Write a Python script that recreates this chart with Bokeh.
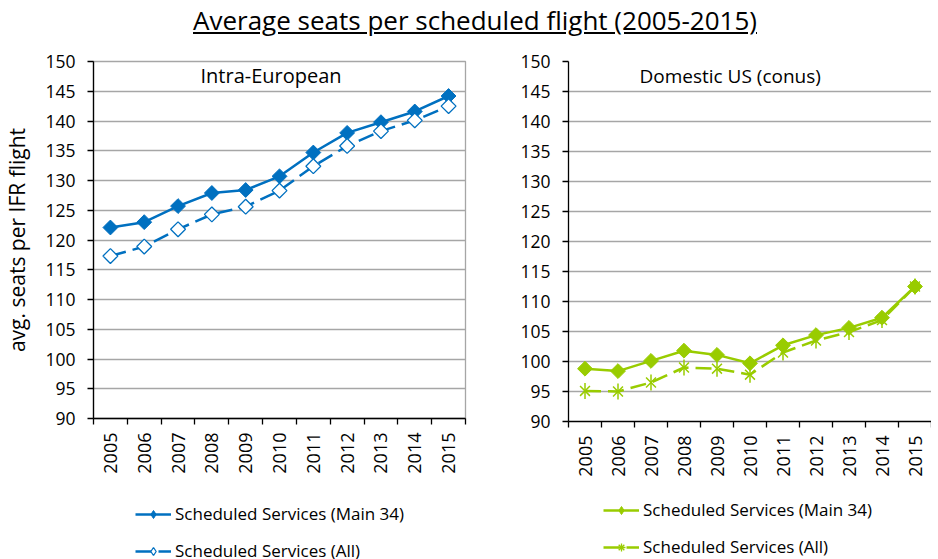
import math
from bokeh.plotting import figure
from bokeh.models import Range1d, FixedTicker, Label, Legend, LegendItem, Div
from bokeh.layouts import column, row
from bokeh.embed import file_html
from bokeh.resources import INLINE

# ---------------- data ----------------
years = [2005, 2006, 2007, 2008, 2009, 2010, 2011, 2012, 2013, 2014, 2015]
eu_main = [122.1, 123.0, 125.7, 127.9, 128.4, 130.7, 134.7, 138.0, 139.8, 141.6, 144.2]
eu_all = [117.3, 118.9, 121.8, 124.3, 125.6, 128.3, 132.4, 135.8, 138.3, 140.1, 142.5]
us_main = [98.8, 98.4, 100.1, 101.8, 101.1, 99.7, 102.7, 104.4, 105.6, 107.3, 112.5]
us_all = [95.1, 95.0, 96.5, 99.0, 98.8, 97.8, 101.5, 103.5, 104.9, 106.9, 112.5]
y_ticks = [90, 95, 100, 105, 110, 115, 120, 125, 130, 135, 140, 145, 150]
series_labels = ["Scheduled Services (Main 34)", "Scheduled Services (All)"]
chart_title = "Average seats per scheduled flight (2005-2015)"
panel_titles = ["Intra-European", "Domestic US (conus)"]
y_label = "avg. seats per IFR flight"

FONT = "Open Sans"
BLUE = "#0070C0"
GREEN = "#99CC00"
GRID = "#a6a6a6"


def make_fig(frame_w, frame_h, b_left, b_right, b_bottom, with_label):
    p = figure(frame_width=frame_w, frame_height=frame_h,
               x_range=Range1d(years[0] - 0.5, years[-1] + 0.5),
               y_range=Range1d(y_ticks[0], y_ticks[-1]),
               output_backend="svg", toolbar_location=None,
               min_border_left=b_left, min_border_right=b_right,
               min_border_top=15, min_border_bottom=b_bottom)
    p.background_fill_color = "white"
    p.border_fill_color = "white"
    p.outline_line_color = GRID
    p.outline_line_width = 1.3
    # x axis
    xa = p.xaxis[0]
    xa.ticker = FixedTicker(ticks=years,
                            minor_ticks=[y - 0.5 for y in years] + [years[-1] + 0.5])
    xa.major_label_overrides = {y: str(y) for y in years}
    xa.major_tick_line_color = None
    xa.minor_tick_line_color = "black"
    xa.minor_tick_in = 0
    xa.minor_tick_out = 6
    xa.minor_tick_line_width = 1.3
    xa.axis_line_color = "black"
    xa.axis_line_width = 1.3
    xa.major_label_orientation = math.pi / 2
    xa.major_label_standoff = 8
    xa.major_label_text_font = FONT
    xa.major_label_text_font_size = "18px"
    xa.major_label_text_color = "black"
    # y axis
    ya = p.yaxis[0]
    ya.ticker = FixedTicker(ticks=y_ticks)
    ya.minor_tick_line_color = None
    ya.major_tick_in = 0
    ya.major_tick_out = 6
    ya.major_tick_line_width = 1.3
    ya.axis_line_color = "black"
    ya.axis_line_width = 1.3
    ya.major_label_standoff = 12
    ya.major_label_text_font = FONT
    ya.major_label_text_font_size = "17.5px"
    ya.major_label_text_color = "black"
    if with_label:
        ya.axis_label = y_label
        ya.axis_label_text_font = FONT
        ya.axis_label_text_font_size = "21px"
        ya.axis_label_text_font_style = "normal"
        ya.axis_label_standoff = 11
        ya.axis_label_text_color = "black"
    p.xgrid.visible = False
    p.ygrid.ticker = FixedTicker(ticks=y_ticks)
    p.ygrid.grid_line_color = GRID
    p.ygrid.grid_line_width = 1.5
    return p


main_line = dict(line_width=2.5)
all_line = dict(line_width=2.5, line_dash="16 7")
dia = dict(marker="square", angle=math.pi / 4, size=10.5, line_width=1)
dia_open = dict(marker="square", angle=math.pi / 4, size=10.5, line_width=1.3,
                fill_color="white")
star_x = dict(marker="x", size=14, line_width=1.5)
star_v = dict(marker="dash", angle=math.pi / 2, size=16, line_width=1.5)
# legend samples (legends draw markers unrotated)
leg_dia = dict(marker="diamond", size=15, line_width=1)
leg_dia_open = dict(marker="diamond", size=15, line_width=1.3, fill_color="white")
leg_star = dict(marker="asterisk", size=14, line_width=1.3)

# ---------------- left: Intra-European ----------------
p1 = make_fig(372, 357, 84, 10, 70, True)
p1.line(years, eu_main, line_color=BLUE, **main_line)
p1.scatter(years, eu_main, fill_color=BLUE, line_color=BLUE, **dia)
p1.line(years, eu_all, line_color=BLUE, **all_line)
p1.scatter(years, eu_all, line_color=BLUE, **dia_open)
p1.add_layout(Label(x=2009.75, y=147.6, text=panel_titles[0], text_align="center",
                    text_baseline="middle", text_font=FONT, text_font_size="20px",
                    text_color="black"))

# ---------------- right: Domestic US ----------------
p2 = make_fig(363, 360, 93, 0, 67, False)
p2.outline_line_color = None
p2.line(years, us_main, line_color=GREEN, **main_line)
p2.scatter(years, us_main, fill_color=GREEN, line_color=GREEN, **dia)
p2.line(years, us_all, line_color=GREEN, **all_line)
p2.scatter(years, us_all, line_color=GREEN, **star_x)
p2.scatter(years, us_all, line_color=GREEN, **star_v)
p2.add_layout(Label(x=2009.4, y=147.6, text=panel_titles[1], text_align="center",
                    text_baseline="middle", text_font=FONT, text_font_size="19px",
                    text_color="black"))

# ---------------- legends: one bare strip below both panels ----------------
lf = figure(frame_width=930 - 135, frame_height=73 - 14,
            x_range=Range1d(0, 1), y_range=Range1d(0, 1),
            x_axis_type=None, y_axis_type=None,
            output_backend="svg", toolbar_location=None,
            min_border_left=135, min_border_top=14,
            min_border_right=0, min_border_bottom=0)
lf.outline_line_color = None
lf.grid.visible = False
# sample renderers use the series data but lie outside this strip's view
a1 = lf.line(years, eu_main, line_color=BLUE, **main_line)
a2 = lf.scatter(years, eu_main, fill_color=BLUE, line_color=BLUE, **leg_dia)
b1 = lf.line(years, eu_all, line_color=BLUE, **all_line)
b2 = lf.scatter(years, eu_all, line_color=BLUE, **leg_dia_open)
c1 = lf.line(years, us_main, line_color=GREEN, **main_line)
c2 = lf.scatter(years, us_main, fill_color=GREEN, line_color=GREEN, **leg_dia)
d1 = lf.line(years, us_all, line_color=GREEN, **all_line)
d2 = lf.scatter(years, us_all, line_color=GREEN, **leg_star)

common = dict(orientation="vertical", border_line_color=None, background_fill_alpha=0,
              margin=0, spacing=14, glyph_width=36, glyph_height=20, label_height=20,
              label_standoff=4, label_text_font=FONT, label_text_font_size="17px",
              label_text_color="black")
lg_left = Legend(items=[LegendItem(label=series_labels[0], renderers=[a1, a2]),
                        LegendItem(label=series_labels[1], renderers=[b1, b2])],
                 location="top_left", padding=4, **common)
lg_right = Legend(items=[LegendItem(label=series_labels[0], renderers=[c1, c2]),
                         LegendItem(label=series_labels[1], renderers=[d1, d2])],
                  location=(468, 3), padding=0, **common)
lf.add_layout(lg_left)
lf.add_layout(lg_right)

title = Div(text="<u>" + chart_title + "</u>", width=930, height=36,
            styles={"font-family": "Open Sans", "font-size": "26px",
                    "text-align": "center", "color": "black",
                    "line-height": "30px", "padding-left": "10px"})

layout = column(title, row(p1, p2), lf)
open("out.html", "w").write(file_html(layout, INLINE))
